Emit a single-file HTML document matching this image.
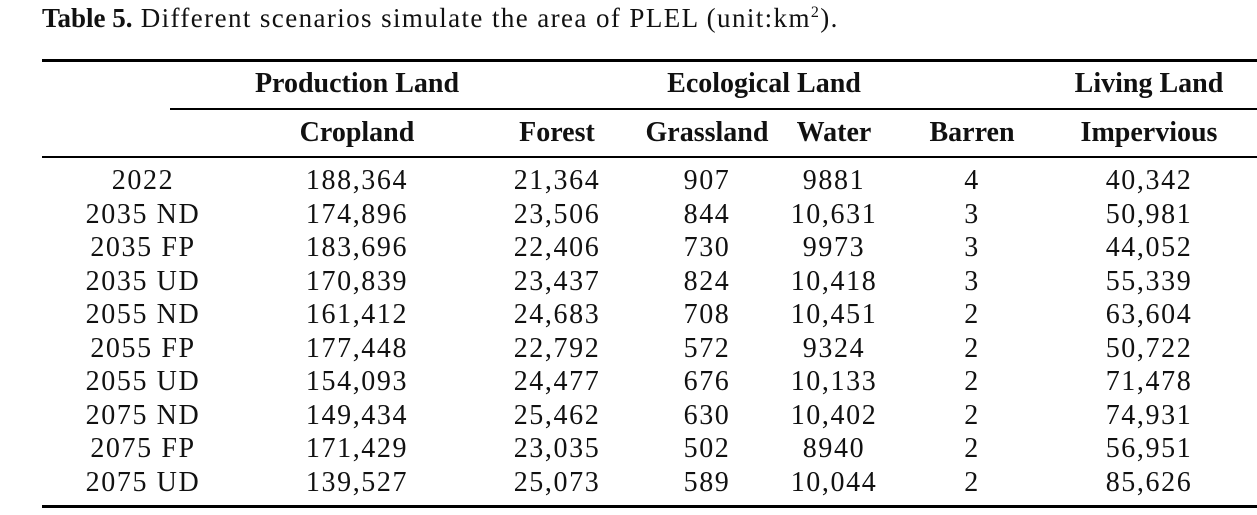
<!DOCTYPE html>
<html><head><meta charset="utf-8"><style>
body{margin:0;width:1257px;height:515px;background:#fff;position:relative;overflow:hidden;font-family:"Liberation Serif",serif;color:#111}
.t{position:absolute;white-space:nowrap;font-size:28px;line-height:30px;letter-spacing:1.6px;transform:translateX(-50%)}
.b{font-weight:bold;font-size:28px;letter-spacing:0}
.r{position:absolute;background:#000;right:0}
</style></head><body>
<div style="position:absolute;left:42px;top:3px;font-size:27px;letter-spacing:1.4px;line-height:30px;white-space:nowrap"><b style="letter-spacing:0">Table 5.</b> Different scenarios simulate the area of PLEL (unit:km<sup style="font-size:16px;line-height:0">2</sup>).</div>
<div class="r" style="left:42px;top:59px;height:3px"></div>
<div class="r" style="left:170px;top:108px;height:1.5px"></div>
<div class="r" style="left:42px;top:156px;height:1.5px"></div>
<div class="r" style="left:42px;top:505px;height:3px"></div>
<div class="t b" style="left:357px;top:69px">Production Land</div>
<div class="t b" style="left:764px;top:69px">Ecological Land</div>
<div class="t b" style="left:1149px;top:69px">Living Land</div>
<div class="t b" style="left:357px;top:118px">Cropland</div>
<div class="t b" style="left:557px;top:118px">Forest</div>
<div class="t b" style="left:707px;top:118px">Grassland</div>
<div class="t b" style="left:834px;top:118px">Water</div>
<div class="t b" style="left:972px;top:118px">Barren</div>
<div class="t b" style="left:1149px;top:118px">Impervious</div>
<div id="rows"></div>
<script>
var d=[["2022","188,364","21,364","907","9881","4","40,342"],
["2035 ND","174,896","23,506","844","10,631","3","50,981"],
["2035 FP","183,696","22,406","730","9973","3","44,052"],
["2035 UD","170,839","23,437","824","10,418","3","55,339"],
["2055 ND","161,412","24,683","708","10,451","2","63,604"],
["2055 FP","177,448","22,792","572","9324","2","50,722"],
["2055 UD","154,093","24,477","676","10,133","2","71,478"],
["2075 ND","149,434","25,462","630","10,402","2","74,931"],
["2075 FP","171,429","23,035","502","8940","2","56,951"],
["2075 UD","139,527","25,073","589","10,044","2","85,626"]];
var xs=[143,357,557,707,834,972,1149],h="";
d.forEach(function(r,i){var y=166+i*33.5;r.forEach(function(c,j){h+='<div class="t" style="left:'+xs[j]+'px;top:'+y+'px">'+c+'</div>';});});
document.getElementById("rows").innerHTML=h;
</script>
</body></html>
